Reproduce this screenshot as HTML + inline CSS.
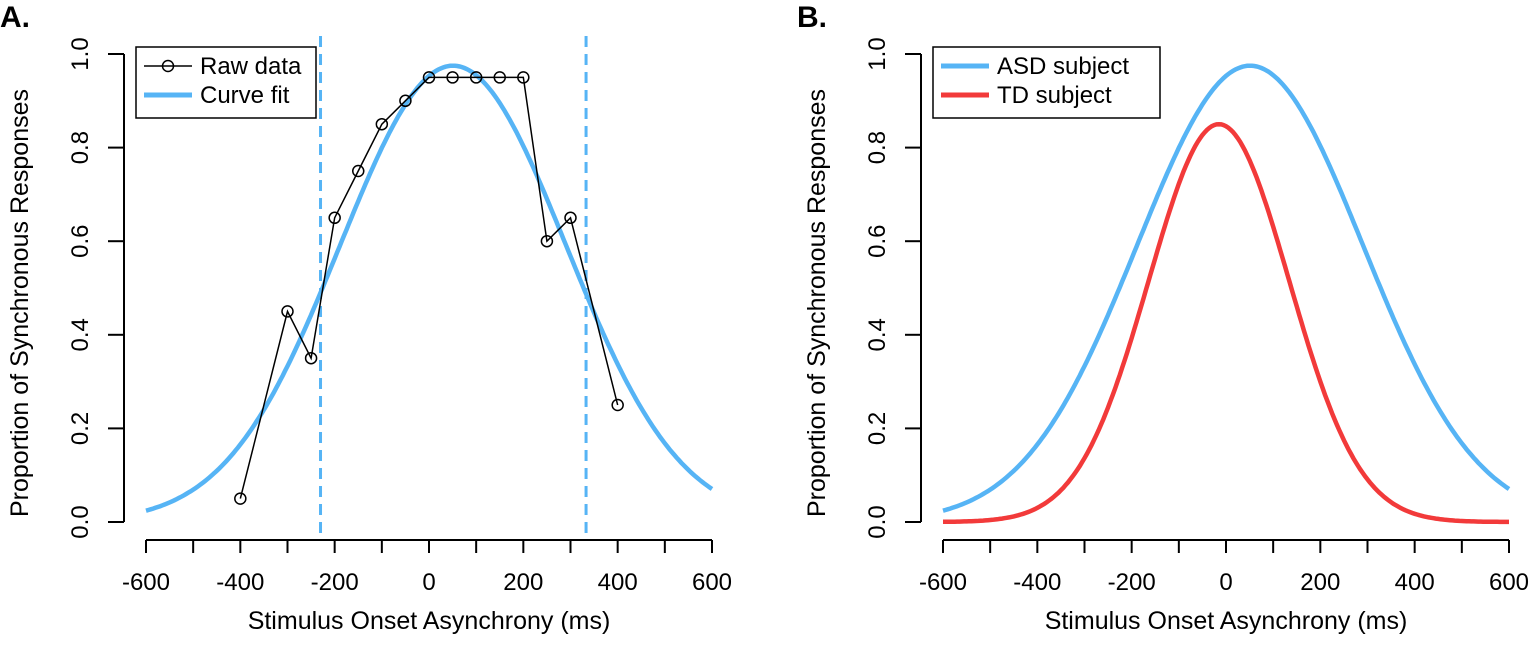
<!DOCTYPE html>
<html><head><meta charset="utf-8"><style>
body{margin:0;background:#fff;}
svg{display:block;font-family:"Liberation Sans",Arial,sans-serif;}
</style></head><body>
<svg id="chart" width="1530" height="660" viewBox="0 0 1530 660" xmlns="http://www.w3.org/2000/svg"></svg>
<script>
const xTicks = [-600,-500,-400,-300,-200,-100,0,100,200,300,400,500,600];
const xLabels = [-600,-400,-200,0,200,400,600];
const yLabels = ["0.0","0.2","0.4","0.6","0.8","1.0"];
const yTickVals = [0,0.2,0.4,0.6,0.8,1.0];
const rawX = [-400,-300,-250,-200,-150,-100,-50,0,50,100,150,200,250,300,400];
const rawY = [0.05,0.45,0.35,0.65,0.75,0.85,0.9,0.95,0.95,0.95,0.95,0.95,0.6,0.65,0.25];
const fitParams = [0.975, 51, 239.5];   // amplitude, mean, sd
const tdParams = [0.85, -15, 149];
const cutoffs = [-230, 333];

const NS="http://www.w3.org/2000/svg";
const svg=document.getElementById('chart');
function mk(tag,attrs,parent){const e=document.createElementNS(NS,tag);for(const k in attrs)e.setAttribute(k,attrs[k]);(parent||svg).appendChild(e);return e;}
function gauss(p,x){return p[0]*Math.exp(-(x-p[1])*(x-p[1])/(2*p[2]*p[2]));}

function panel(off,label,isA){
  const g=mk('g',{});
  
  
  const sx=v=>off+146+(v+600)*566/1200;
  const sy=v=>522-v*468;
  const t=mk('text',{x:off+0,y:27,'font-size':30,'font-weight':'bold'},g);t.textContent=label;
  
  const xa=mk('g',{stroke:'#000','stroke-width':2},g);
  
  mk('line',{x1:sx(-600),x2:sx(600),y1:540,y2:540},xa);
  xTicks.forEach(v=>mk('line',{x1:sx(v),x2:sx(v),y1:540,y2:553},xa));
  xLabels.forEach(v=>{const e=mk('text',{x:sx(v),y:590,'font-size':24,'text-anchor':'middle'},g);e.textContent=v;
    });
  const xt=mk('text',{x:sx(0),y:629,'font-size':25,'text-anchor':'middle'},g);xt.textContent='Stimulus Onset Asynchrony (ms)';
  
  const ya=mk('g',{stroke:'#000','stroke-width':2},g);
  
  const ax=off+124;
  mk('line',{x1:ax,x2:ax,y1:sy(0),y2:sy(1)},ya);
  yTickVals.forEach(v=>mk('line',{x1:ax-16,x2:ax,y1:sy(v),y2:sy(v)},ya));
  yTickVals.forEach((v,i)=>{const e=mk('text',{x:0,y:0,'font-size':24,'text-anchor':'middle',transform:`translate(${off+88},${sy(v)}) rotate(-90)`},g);e.textContent=yLabels[i];
    });
  const yt=mk('text',{x:0,y:0,'font-size':25,'text-anchor':'middle',transform:`translate(${off+28},${303}) rotate(-90)`},g);yt.textContent='Proportion of Synchronous Responses';
  
  function curve(p,color,name){let d='';for(let x=-600;x<=600;x+=5)d+=(x==-600?'M':'L')+sx(x).toFixed(1)+','+sy(gauss(p,x)).toFixed(1);
    const e=mk('path',{d:d,fill:'none',stroke:color,'stroke-width':4.5},g);}
  function legend(items){
    const lg=mk('g',{},g);
    const lx=off+136, w=isA?180:227;
    mk('rect',{x:lx,y:47,width:w,height:71,fill:'#fff',stroke:'#000','stroke-width':1.5},lg);
    items.forEach((it,i)=>{const y=66+i*29;
      const en=mk('g',{},lg);
      mk('line',{x1:lx+8,x2:lx+56,y1:y,y2:y,stroke:it.c,'stroke-width':it.w},en);
      if(it.circ)mk('circle',{cx:lx+32,cy:y,r:5.5,fill:'none',stroke:'#000','stroke-width':1.5},en);
      const tx=mk('text',{x:lx+64,y:y+8,'font-size':24},en);tx.textContent=it.t;});
  }
  if(isA){
    curve(fitParams,'#56b4f5','curve-fit-line');
    cutoffs.forEach(c=>{const e=mk('line',{x1:sx(c),x2:sx(c),y1:36,y2:540,stroke:'#56b4f5','stroke-width':3,'stroke-dasharray':'11,7'},g);
      });
    const d=rawX.map((x,i)=>(i?'L':'M')+sx(x)+','+sy(rawY[i])).join('');
    const pl=mk('path',{d:d,fill:'none',stroke:'#000','stroke-width':1.5},g);
    
    rawX.forEach((x,i)=>{const c=mk('circle',{cx:sx(x),cy:sy(rawY[i]),r:5.5,fill:'none',stroke:'#000','stroke-width':1.5},g);
      });
    legend([{t:'Raw data',c:'#000',w:1.5,circ:true},{t:'Curve fit',c:'#56b4f5',w:5}]);
  } else {
    curve(fitParams,'#56b4f5','asd-curve');
    curve(tdParams,'#f23a3a','td-curve');
    legend([{t:'ASD subject',c:'#56b4f5',w:5},{t:'TD subject',c:'#f23a3a',w:5}]);
  }
}
panel(0,'A.',true);
panel(797,'B.',false);
</script>
</body></html>
